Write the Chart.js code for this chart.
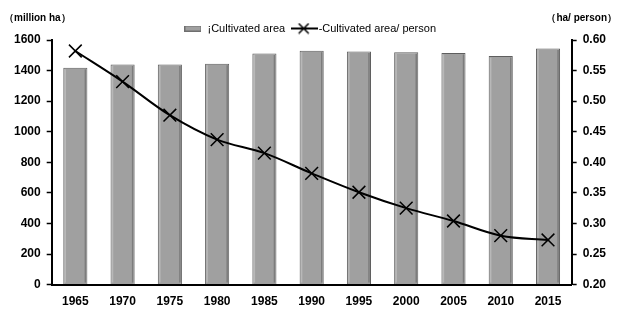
<!DOCTYPE html>
<html>
<head>
<meta charset="utf-8">
<script src="https://cdn.jsdelivr.net/npm/chart.js@4/dist/chart.umd.min.js"></script>
<style>
  html, body { margin: 0; padding: 0; background: #fff; }
  #wrap { width: 617px; height: 309px; position: relative; }
</style>
</head>
<body>
<div id="wrap"><canvas id="cv"></canvas></div>
<script>
const years = ['1965', '1970', '1975', '1980', '1985', '1990', '1995', '2000', '2005', '2010', '2015'];
const cultivatedArea = [1418, 1440, 1440, 1445, 1512, 1530, 1525, 1520, 1515, 1495, 1545]; // million ha
const areaPerPerson = [0.582, 0.532, 0.477, 0.437, 0.415, 0.382, 0.351, 0.325, 0.304, 0.280, 0.273]; // ha/person

const FONT = 'Liberation Sans, Arial, sans-serif';

// legend swatches
function makeBarSwatch() {
    const c = document.createElement('canvas');
    c.width = 17; c.height = 6;
    const g = c.getContext('2d');
    g.fillStyle = '#a0a0a0';
    g.fillRect(0, 0, 17, 6);
    g.strokeStyle = '#6e6e6e';
    g.strokeRect(0.5, 0.5, 16, 5);
    return c;
}
function makeLineSwatch() {
    const c = document.createElement('canvas');
    c.width = 27; c.height = 12;
    const g = c.getContext('2d');
    g.strokeStyle = '#000';
    g.lineWidth = 2;
    g.beginPath(); g.moveTo(0, 6); g.lineTo(27, 6); g.stroke();
    g.lineWidth = 1.5;
    g.beginPath();
    g.moveTo(8, 1); g.lineTo(18, 11);
    g.moveTo(18, 1); g.lineTo(8, 11);
    g.stroke();
    return c;
}
const barSwatch = makeBarSwatch();
const lineSwatch = makeLineSwatch();

// light left / dark right edge on each bar, like the 3D bars of the original
const barBevel = {
    id: 'barBevel',
    afterDatasetDraw(chart, args) {
        if (chart.data.datasets[args.index].type !== 'bar') return;
        const ctx = chart.ctx;
        ctx.save();
        ctx.lineWidth = 1.5;
        args.meta.data.forEach(bar => {
            const l = bar.x - bar.width / 2, r = bar.x + bar.width / 2;
            ctx.strokeStyle = '#b8b8b8';
            ctx.beginPath(); ctx.moveTo(l + 2, bar.y + 1.5); ctx.lineTo(l + 2, bar.base - 1.5); ctx.stroke();
            ctx.strokeStyle = '#7c7c7c';
            ctx.beginPath(); ctx.moveTo(r - 2, bar.y + 1.5); ctx.lineTo(r - 2, bar.base - 1.5); ctx.stroke();
        });
        ctx.restore();
    }
};

const axisTitles = {
    id: 'axisTitles',
    afterDraw(chart) {
        const ctx = chart.ctx;
        ctx.save();
        ctx.fillStyle = '#000';
        ctx.font = 'bold 10px ' + FONT;
        ctx.textBaseline = 'middle';
        ctx.textAlign = 'left';
        ctx.fillText('（million ha）', 4, 18);
        ctx.textAlign = 'right';
        ctx.fillText('（ha/ person）', 617, 18);
        ctx.restore();
    }
};

new Chart(document.getElementById('cv'), {
    data: {
        labels: years,
        datasets: [
            {
                type: 'line',
                label: '-Cultivated area/ person',
                data: areaPerPerson,
                yAxisID: 'y1',
                borderColor: '#000',
                borderWidth: 2,
                tension: 0.35,
                pointStyle: 'crossRot',
                pointRadius: 9,
                pointBorderWidth: 1.5,
                pointBorderColor: '#000',
                order: 0
            },
            {
                type: 'bar',
                label: '¡Cultivated area',
                data: cultivatedArea,
                yAxisID: 'y',
                backgroundColor: '#a0a0a0',
                borderColor: '#5e5e5e',
                borderWidth: 1,
                barPercentage: 0.51,
                categoryPercentage: 1,
                order: 1
            }
        ]
    },
    options: {
        responsive: true,
        maintainAspectRatio: false,
        animation: false,
        layout: { autoPadding: false, padding: { top: 13, right: 5, left: 8, bottom: -10 } },
        plugins: {
            legend: {
                position: 'top',
                reverse: true,
                maxHeight: 27,
                labels: {
                    usePointStyle: true,
                    pointStyleWidth: 18,
                    color: '#000',
                    font: { family: FONT, size: 11 },
                    padding: 10,
                    generateLabels(chart) {
                        return chart.data.datasets.map((ds, i) => ({
                            text: ds.label,
                            pointStyle: ds.type === 'bar' ? barSwatch : lineSwatch,
                            datasetIndex: i,
                            hidden: false,
                            fontColor: '#000'
                        }));
                    }
                }
            },
            tooltip: { enabled: false }
        },
        scales: {
            x: {
                grid: { display: false, drawTicks: false },
                border: { color: '#000', width: 2 },
                ticks: { color: '#000', font: { family: FONT, size: 12, weight: 'bold' }, padding: 10, maxRotation: 0 }
            },
            y: {
                position: 'left',
                min: 0,
                max: 1600,
                ticks: { stepSize: 200, color: '#000', font: { family: FONT, size: 12, weight: 'bold' }, padding: 6,
                    callback: v => String(v) },
                grid: { drawOnChartArea: false, color: '#000', tickLength: 5, tickWidth: 1.5 },
                border: { color: '#000', width: 2 }
            },
            y1: {
                position: 'right',
                min: 0.2,
                max: 0.6,
                ticks: { stepSize: 0.05, color: '#000', font: { family: FONT, size: 12, weight: 'bold' }, padding: 6,
                    callback: v => v.toFixed(2) },
                grid: { drawOnChartArea: false, color: '#000', tickLength: 5, tickWidth: 1.5 },
                border: { color: '#000', width: 2 }
            }
        }
    },
    plugins: [barBevel, axisTitles]
});
</script>
</body>
</html>
